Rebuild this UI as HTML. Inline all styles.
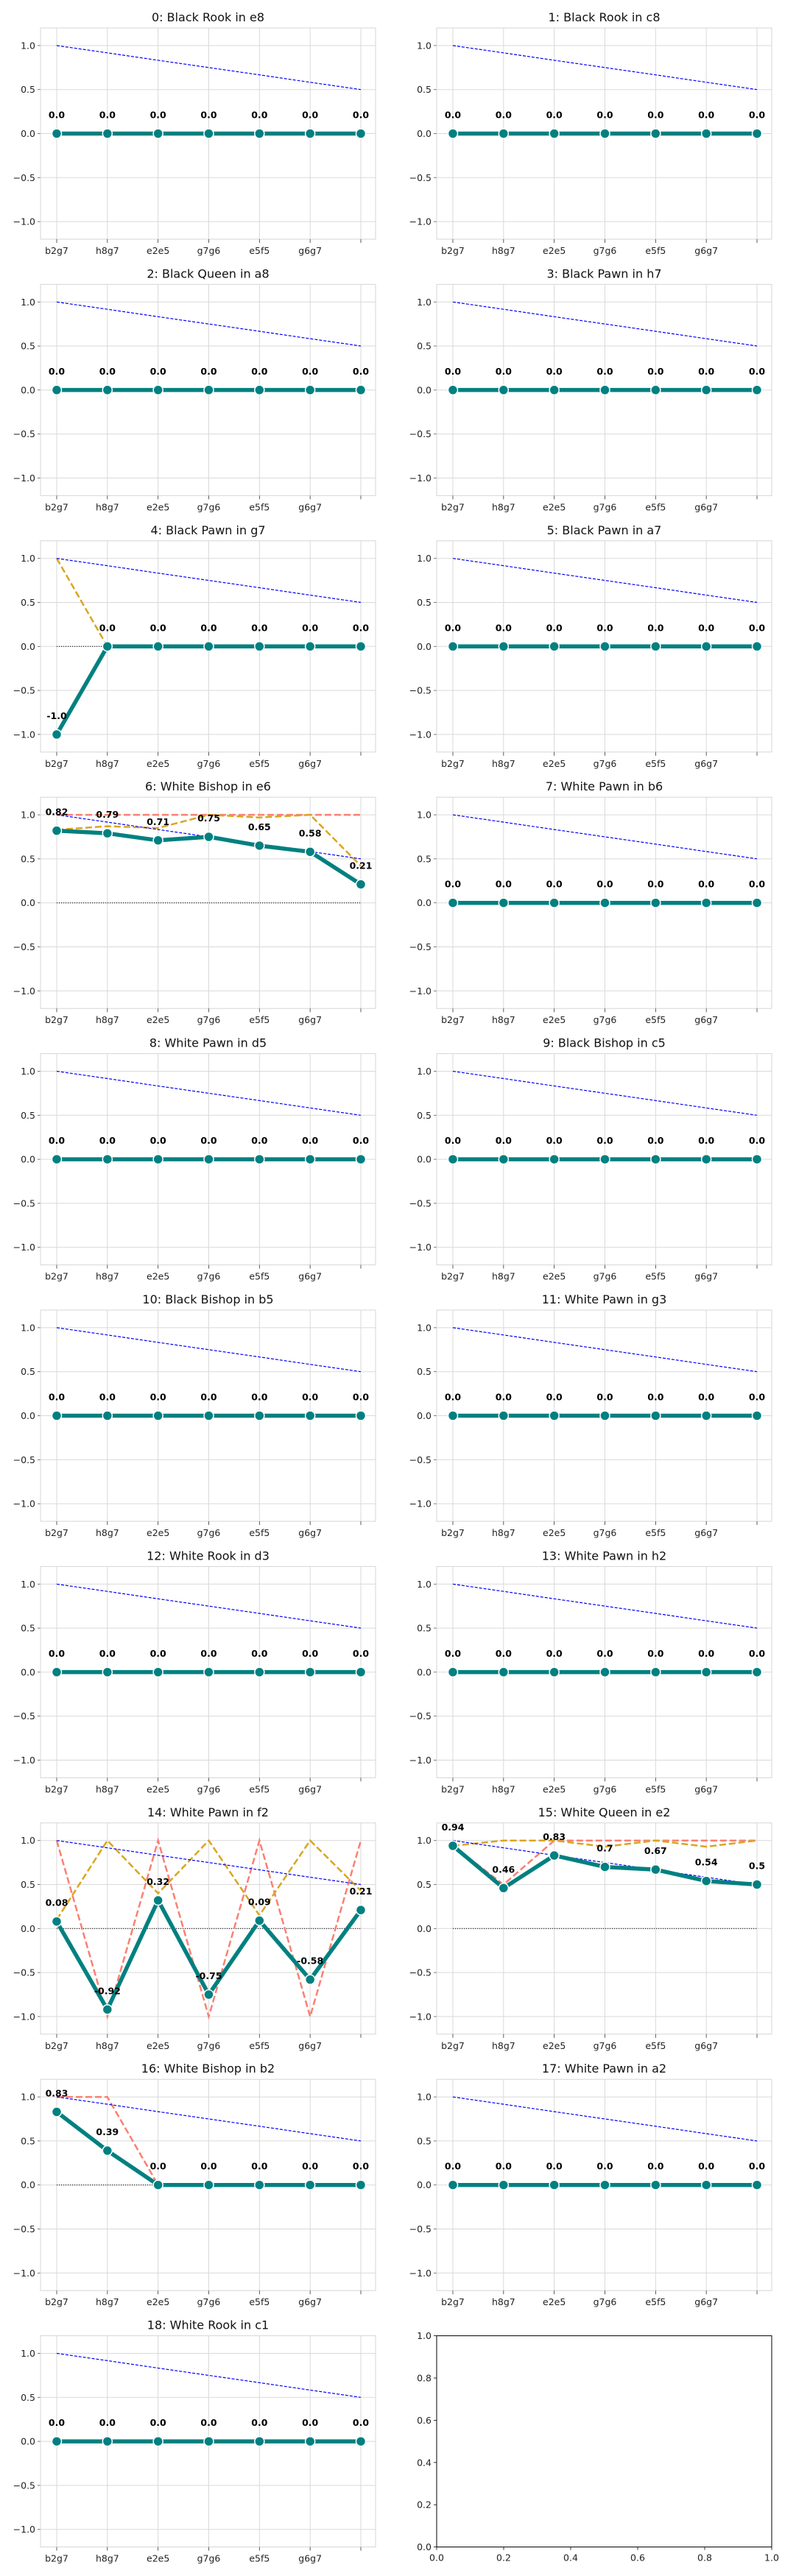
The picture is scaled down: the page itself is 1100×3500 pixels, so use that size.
<!DOCTYPE html>
<html><head><meta charset="utf-8">
<style>
html,body{margin:0;padding:0;background:#fff;}
svg{display:block;font-family:"DejaVu Sans","Liberation Sans",sans-serif;}
</style></head>
<body>
<svg id="chart" width="1100" height="3500" xmlns="http://www.w3.org/2000/svg"></svg>
<script>
const moves = ["b2g7","h8g7","e2e5","g7g6","e5f5","g6g7",""];
const titles = ["0: Black Rook in e8","1: Black Rook in c8","2: Black Queen in a8","3: Black Pawn in h7","4: Black Pawn in g7","5: Black Pawn in a7","6: White Bishop in e6","7: White Pawn in b6","8: White Pawn in d5","9: Black Bishop in c5","10: Black Bishop in b5","11: White Pawn in g3","12: White Rook in d3","13: White Pawn in h2","14: White Pawn in f2","15: White Queen in e2","16: White Bishop in b2","17: White Pawn in a2","18: White Rook in c1"];
const refLine = [1,0.917,0.833,0.75,0.667,0.583,0.5];
const Z = [0,0,0,0,0,0,0];
const mainVals = [Z,Z,Z,Z,[-1,0,0,0,0,0,0],Z,[0.82,0.79,0.71,0.75,0.65,0.58,0.21],Z,Z,Z,Z,Z,Z,Z,[0.08,-0.92,0.32,-0.75,0.09,-0.58,0.21],[0.94,0.46,0.83,0.7,0.67,0.54,0.5],[0.83,0.39,0,0,0,0,0],Z,Z];
const salmonVals = [Z,Z,Z,Z,[-1,0,0,0,0,0,0],Z,[1,1,1,1,1,1,1],Z,Z,Z,Z,Z,Z,Z,[1,-1,1,-1,1,-1,1],[0.94,0.5,1,1,1,1,1],[1,1,0,0,0,0,0],Z,Z];
const goldVals = [Z,Z,Z,Z,[1,0,0,0,0,0,0],Z,[0.83,0.87,0.85,1,0.97,1,0.42],Z,Z,Z,Z,Z,Z,Z,[0.1,1,0.4,1,0.15,1,0.43],[0.94,1,1,0.93,1,0.93,1],[0.83,0.39,0,0,0,0,0],Z,Z];
const yTicks = [-1,-0.5,0,0.5,1];
const yTickLabels = ["\u22121.0","\u22120.5","0.0","0.5","1.0"];
const emptyTicks = [0,0.2,0.4,0.6,0.8,1];
const emptyTickLabels = ["0.0","0.2","0.4","0.6","0.8","1.0"];

const NS="http://www.w3.org/2000/svg";
const svg=document.getElementById('chart');
function el(tag,attrs,parent){const e=document.createElementNS(NS,tag);for(const k in attrs)e.setAttribute(k,attrs[k]);(parent||svg).appendChild(e);return e;}
const W=455,H=287,ROW=348.4,TOP=38,LEFTS=[55,593];
function fmt(v){return Number.isInteger(v)?v.toFixed(1):String(v);}

function drawPanel(i){
  const col=i%2,row=Math.floor(i/2);
  const L=LEFTS[col],T=TOP+row*ROW;
  const xs=k=>L+22+k*(413/6);
  const ys=v=>T+143.5-v*119.6;
  const g=el('g',{});
  
  
  for(let k=0;k<7;k++){const ln=el('line',{x1:xs(k),x2:xs(k),y1:T,y2:T+H,stroke:'#d9d9d9','stroke-width':1},g);
    }
  yTicks.forEach((t,j)=>{const ln=el('line',{x1:L,x2:L+W,y1:ys(t),y2:ys(t),stroke:'#d9d9d9','stroke-width':1},g);
    
    el('line',{x1:L-4,x2:L,y1:ys(t),y2:ys(t),stroke:'#555','stroke-width':0.8},g);
    const tx=el('text',{x:L-7,y:ys(t)+4.5,'text-anchor':'end','font-size':12.5,fill:'#222'},g);tx.textContent=yTickLabels[j];
    });
  const fr=el('rect',{x:L,y:T,width:W,height:H,fill:'none',stroke:'#d6d6d6','stroke-width':1},g);
  
  for(let k=0;k<7;k++){el('line',{x1:xs(k),x2:xs(k),y1:T+H,y2:T+H+5,stroke:'#333','stroke-width':0.8},g);
    const tx=el('text',{x:xs(k),y:T+H+20,'text-anchor':'middle','font-size':12.5,fill:'#222'},g);tx.textContent=moves[k];
    }
  const ti=el('text',{x:L+W/2,y:T-9,'text-anchor':'middle','font-size':16,fill:'#111'},g);ti.textContent=titles[i];
  
  const pts=a=>a.map((v,k)=>xs(k).toFixed(1)+','+ys(v).toFixed(1)).join(' ');
  const zl=el('line',{x1:xs(0),x2:xs(6),y1:ys(0),y2:ys(0),stroke:'#000','stroke-width':1,'stroke-dasharray':'1.2,1.8'},g);
  
  const s=el('polyline',{points:pts(salmonVals[i]),fill:'none',stroke:'#FA8072','stroke-width':2.5,'stroke-dasharray':'9,4'},g);
  
  const o=el('polyline',{points:pts(goldVals[i]),fill:'none',stroke:'#DAA520','stroke-width':2.5,'stroke-dasharray':'9,4'},g);
  
  const b=el('polyline',{points:pts(refLine),fill:'none',stroke:'#0000ff','stroke-width':1.2,'stroke-dasharray':'4,2'},g);
  
  const m=el('polyline',{points:pts(mainVals[i]),fill:'none',stroke:'#008080','stroke-width':5.5,'stroke-linejoin':'round'},g);
  
  mainVals[i].forEach((v,k)=>{
    const c=el('circle',{cx:xs(k),cy:ys(v),r:6.5,fill:'#008080',stroke:'#fff','stroke-width':1.5},g);
    
    const t=el('text',{x:xs(k),y:ys(v)-21,'text-anchor':'middle','font-size':12.5,'font-weight':'bold',fill:'#000'},g);t.textContent=fmt(v);
    
  });
}
for(let i=0;i<titles.length;i++)drawPanel(i);

(function(){
  const L=LEFTS[1],T=TOP+9*ROW;
  const g=el('g',{});
  
  
  el('rect',{x:L,y:T,width:W,height:H,fill:'none',stroke:'#000','stroke-width':1},g);
  emptyTicks.forEach((t,j)=>{
    const y=T+H-t*H,x=L+t*W;
    el('line',{x1:L-4,x2:L,y1:y,y2:y,stroke:'#000','stroke-width':0.8},g);
    const a=el('text',{x:L-7,y:y+4.5,'text-anchor':'end','font-size':12.5,fill:'#222'},g);a.textContent=emptyTickLabels[j];
    
    el('line',{x1:x,x2:x,y1:T+H,y2:T+H+4,stroke:'#000','stroke-width':0.8},g);
    const b=el('text',{x:x,y:T+H+19,'text-anchor':'middle','font-size':12.5,fill:'#222'},g);b.textContent=emptyTickLabels[j];
    
  });
})();
</script>
</body></html>
